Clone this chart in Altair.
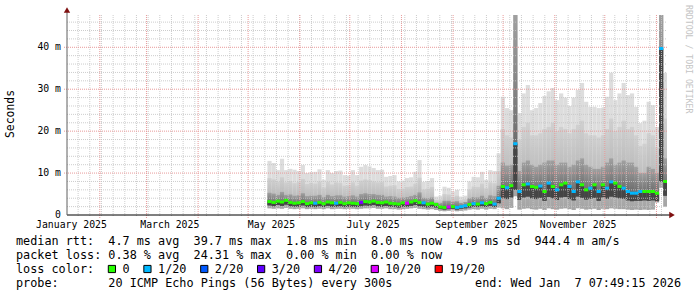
import altair as alt
import pandas as pd

# ---------------- data ----------------
# 2.5-day consolidation bins (smokeping 360-day RRA), first bin starts mid May 2025
bin_start = pd.date_range("2025-05-12 14:00:00", periods=96, freq="60h")

rtt_max = [12.9, 12.4, 10.7, 13.4, 10.7, 11.0, 10.8, 10.5, 11.9, 10.0, 10.2, 10.3, 10.9, 8.4, 10.7, 10.0, 10.5, 10.6, 9.5, 9.4,
           10.7, 9.5, 11.5, 11.9, 11.6, 11.2, 10.7, 10.8, 9.1, 9.3, 9.5, 8.0, 8.2, 8.8, 9.0, 10.3, 13.1, 7.9, 8.1, 8.8,
           4.4, 4.6, 6.75, 6.5, 5.6, 6.0, 4.4, 4.6, 8.0, 9.1, 9.0, 10.3, 8.4, 10.7, 10.5,
           14.7, 28.2, 25.5, 25.0, 48.0, 24.3, 29.0, 31.0, 25.0, 25.5, 26.7, 28.4, 29.5, 30.3, 27.4, 29.0, 28.0, 26.0, 28.0,
           29.8, 31.5, 27.0, 25.8, 25.8, 25.5, 25.6, 28.2, 33.9, 27.4, 29.0, 31.5, 28.6, 29.0, 25.8, 21.9, 22.5, 27.0, 26.2,
           21.0, 48.0, 33.9]
rtt_hi = [8.8, 8.5, 7.9, 9.0, 7.8, 8.1, 7.6, 7.9, 8.6, 7.4, 7.7, 7.5, 8.0, 6.6, 7.9, 7.3, 7.8, 7.7, 7.0, 7.1,
          7.8, 7.0, 8.2, 8.5, 8.3, 8.0, 7.8, 7.9, 6.8, 7.0, 7.1, 6.2, 6.3, 6.7, 6.8, 7.5, 8.9, 6.1, 6.3, 6.7,
          3.6, 3.7, 5.0, 4.9, 4.3, 4.6, 3.6, 3.8, 6.1, 6.8, 6.7, 7.5, 6.4, 7.8, 7.6,
          10.5, 20.5, 19.0, 18.5, 47.7, 18.0, 21.0, 22.0, 19.0, 19.0, 19.5, 20.5, 21.0, 22.0, 20.0, 21.0, 20.5, 19.5, 20.5,
          21.5, 22.5, 19.5, 19.0, 19.0, 18.5, 19.0, 20.5, 23.0, 20.0, 21.0, 22.5, 20.5, 21.0, 19.0, 16.5, 17.0, 19.5, 19.0,
          16.0, 47.7, 23.0]
rtt_mid = [5.3, 5.1, 4.8, 5.5, 4.8, 4.9, 4.6, 4.7, 5.2, 4.5, 4.6, 4.6, 4.8, 4.3, 4.8, 4.5, 4.7, 4.7, 4.4, 4.5,
           4.7, 4.4, 5.0, 5.2, 5.0, 5.0, 4.8, 4.8, 4.4, 4.5, 4.4, 4.1, 4.2, 4.3, 4.5, 4.8, 5.4, 4.1, 4.0, 4.2,
           3.0, 2.9, 3.4, 3.4, 3.2, 3.3, 2.9, 3.1, 4.0, 4.3, 4.2, 4.6, 4.1, 4.7, 4.5,
           7.0, 12.5, 11.8, 12.0, 47.7, 10.5, 12.5, 13.0, 12.0, 11.5, 12.0, 12.5, 13.0, 13.0, 12.0, 12.5, 12.5, 11.5, 12.0,
           13.0, 13.5, 12.0, 11.5, 11.0, 11.0, 11.5, 12.5, 13.5, 12.0, 12.5, 13.0, 12.5, 12.5, 11.5, 10.0, 10.0, 11.5, 11.0,
           10.0, 48.0, 13.5]
rtt_median = [3.2, 3.0, 3.3, 3.1, 3.5, 3.0, 2.8, 2.9, 3.2, 2.7, 2.9, 2.8, 3.0, 2.7, 3.1, 2.9, 2.8, 3.0, 2.7, 2.9,
              2.8, 2.7, 3.0, 3.2, 3.1, 3.3, 3.0, 2.9, 3.1, 2.8, 2.7, 2.6, 2.9, 2.8, 3.1, 3.4, 3.0, 2.9, 2.6, 2.8, 2.5,
              1.9, 1.8, 1.9, 2.0, 1.8, 2.0, 2.2, 2.5, 2.7, 2.6, 2.9, 2.7, 3.0, 2.6,
              4.0, 6.8, 6.5, 7.0, 17.0, 5.6, 7.2, 7.4, 6.8, 6.6, 6.9, 5.6, 7.6, 6.8, 6.0, 7.2, 7.6, 6.8, 5.6,
              7.9, 7.2, 6.0, 6.4, 7.2, 5.6, 7.2, 6.4, 7.9, 7.6, 6.8, 6.4, 5.6, 5.2, 5.2, 5.6, 5.6, 5.6, 5.6,
              5.2, 39.7, 8.0]
rtt_lo = [2.3, 2.1, 2.4, 2.2, 2.5, 2.1, 2.0, 2.0, 2.3, 1.9, 2.0, 1.9, 2.1, 1.9, 2.2, 2.0, 2.0, 2.1, 1.9, 2.0,
          2.0, 1.9, 2.1, 2.3, 2.2, 2.4, 2.1, 2.0, 2.2, 2.0, 1.9, 1.8, 2.0, 2.0, 2.2, 2.4, 2.1, 2.0, 1.8, 2.0, 1.8,
          1.4, 1.3, 1.4, 1.5, 1.3, 1.5, 1.6, 1.8, 2.0, 1.9, 2.1, 1.9, 2.2, 1.9,
          2.8, 4.0, 3.8, 4.2, 6.0, 3.6, 4.2, 4.4, 4.0, 3.8, 4.1, 3.4, 4.3, 4.0, 3.6, 4.2, 4.3, 3.8, 3.5,
          4.4, 4.1, 3.7, 3.9, 4.1, 3.4, 4.2, 3.9, 4.4, 4.2, 4.0, 3.9, 3.5, 3.3, 3.4, 3.4, 3.5, 3.4, 3.5,
          3.3, 8.0, 4.6]
rtt_min = [1.6, 1.5, 1.6, 1.5, 1.7, 1.5, 1.4, 1.5, 1.6, 1.4, 1.5, 1.4, 1.5, 1.4, 1.6, 1.4, 1.5, 1.5, 1.4, 1.5,
           1.5, 1.4, 1.5, 1.6, 1.6, 1.7, 1.5, 1.5, 1.6, 1.4, 1.4, 1.3, 1.4, 1.5, 1.6, 1.7, 1.5, 1.4, 1.3, 1.4, 1.2,
           1.0, 0.9, 1.0, 1.1, 0.9, 1.0, 1.1, 1.3, 1.4, 1.3, 1.5, 1.3, 1.5, 1.4,
           1.8, 1.6, 1.4, 1.7, 4.5, 1.3, 1.5, 1.6, 1.4, 1.3, 1.5, 1.2, 1.6, 1.4, 1.3, 1.5, 1.6, 1.4, 1.2,
           1.6, 1.5, 1.3, 1.4, 1.5, 1.2, 1.5, 1.4, 1.6, 1.5, 1.4, 1.4, 1.3, 1.2, 1.3, 1.2, 1.3, 1.2, 1.3,
           3.0, 6.5, 2.0]
# lost pings (of 20) per bin
loss = [0, 0, 0, 0, 0, 0, 0, 0, 0, 0, 0, 1, 0, 0, 0, 0, 1, 0, 0, 0,
        0, 0, 4, 0, 0, 0, 0, 0, 0, 0, 0, 0, 0, 10, 0, 0, 0, 1, 0, 0, 0,
        0, 0, 10, 0, 1, 1, 1, 0, 1, 0, 1, 0, 0, 1,
        1, 0, 1, 0, 1, 1, 0, 1, 0, 0, 1, 0, 1, 0, 1, 0, 0, 1, 1,
        1, 0, 0, 1, 0, 1, 0, 1, 1, 0, 0, 1, 1, 1, 1, 1, 0, 0, 0,
        0, 1, 0]

loss_thresholds = [1, 2, 3, 4, 10, 19]
loss_labels = ["0", "1/20", "2/20", "3/20", "4/20", "10/20", "19/20"]
loss_colors = ["#26ff00", "#00b8ff", "#0059ff", "#5e00ff", "#7e00ff", "#dd00ff", "#ff0000"]

y_tick_values = [0, 10, 20, 30, 40]
y_tick_labels = ["0", "10 m", "20 m", "30 m", "40 m"]
y_max = 47.7
x_label_dates = ["2025-01-15", "2025-03-15", "2025-05-15", "2025-07-15", "2025-09-15", "2025-11-15"]
x_labels = ["January 2025", "March 2025", "May 2025", "July 2025", "September 2025", "November 2025"]

legend_rtt = "median rtt:  4.7 ms avg  39.7 ms max  1.8 ms min  8.0 ms now  4.9 ms sd  944.4 m am/s"
legend_loss = "packet loss: 0.38 % avg  24.31 % max  0.00 % min  0.00 % now"
legend_probe = "probe:       20 ICMP Echo Pings (56 Bytes) every 300s"
legend_end = "end: Wed Jan  7 07:49:15 2026"
watermark = "RRDTOOL / TOBI OETIKER"
y_title = "Seconds"

# ---------------- frames ----------------
df = pd.DataFrame({
    "start": bin_start,
    "end": bin_start + pd.Timedelta(hours=60),
    "max": rtt_max, "hi": rtt_hi, "mid": rtt_mid, "median": rtt_median,
    "lo": rtt_lo, "min": rtt_min, "loss": loss,
})
weeks = pd.DataFrame({"d": pd.date_range("2025-01-19", "2026-01-04", freq="7D")})
months = pd.DataFrame({"d": pd.date_range("2025-02-01", "2026-01-01", freq="MS")})
ygrid_minor = pd.DataFrame({"v": [v for v in range(2, 48, 2) if v % 10]})
ygrid_major = pd.DataFrame({"v": [v for v in y_tick_values if v > 0]})
xlab_df = pd.DataFrame({"d": pd.to_datetime(x_label_dates), "t": x_labels})
ylab_df = pd.DataFrame({"v": y_tick_values, "t": y_tick_labels})

MONO = "DejaVu Sans Mono"
W, H = 600, 200
LEFT, TOP = 67, 15

x_scale = alt.Scale(domain=[alt.DateTime(year=2025, month=1, date=12, hours=7, minutes=49, seconds=15),
                            alt.DateTime(year=2026, month=1, date=7, hours=7, minutes=49, seconds=15)])
y_scale = alt.Scale(domain=[0, y_max], nice=False, zero=False)

base = alt.Chart(df)

band_a = base.mark_rect(fill="#dddddd", clip=True).encode(
    x=alt.X("start:T", scale=x_scale, axis=None), x2="end:T",
    y=alt.Y("min:Q", scale=y_scale, axis=None), y2="max:Q")

grad_b = alt.LinearGradient(gradient="linear", x1=0, x2=0, y1=0, y2=1,
                            stops=[alt.GradientStop(color="#d0d0d0", offset=0),
                                   alt.GradientStop(color="#b8b8b8", offset=0.6),
                                   alt.GradientStop(color="#a4a4a4", offset=1)])
band_b = base.mark_rect(fill=grad_b, clip=True).encode(
    x=alt.X("start:T", axis=None), x2="end:T", y=alt.Y("min:Q", axis=None), y2="hi:Q")

grad_c = alt.LinearGradient(gradient="linear", x1=0, x2=0, y1=0, y2=1,
                            stops=[alt.GradientStop(color="#a0a0a0", offset=0),
                                   alt.GradientStop(color="#787878", offset=0.6),
                                   alt.GradientStop(color="#565656", offset=1)])
band_c = base.mark_rect(fill=grad_c, clip=True).encode(
    x=alt.X("start:T", axis=None), x2="end:T", y=alt.Y("lo:Q", axis=None), y2="mid:Q")

band_d = base.mark_rect(fill="#454545", clip=True).encode(
    x=alt.X("start:T", axis=None), x2="end:T", y=alt.Y("lo:Q", axis=None), y2="median:Q")

# grids (drawn over the smoke, like rrdtool)
g_week = alt.Chart(weeks).mark_rule(color="#c4c4c4", strokeDash=[1, 1], strokeWidth=1, opacity=0.85).encode(
    x=alt.X("d:T", axis=None), y=alt.value(0), y2=alt.value(H + 2))
g_month = alt.Chart(months).mark_rule(color="#e89a9a", strokeDash=[1, 1], strokeWidth=1).encode(
    x=alt.X("d:T", axis=None), y=alt.value(0), y2=alt.value(H + 3))
g_ymin = alt.Chart(ygrid_minor).mark_rule(color="#c4c4c4", strokeDash=[1, 1], strokeWidth=1, opacity=0.85).encode(
    y=alt.Y("v:Q", axis=None), x=alt.value(0), x2=alt.value(W))
g_ymaj = alt.Chart(ygrid_major).mark_rule(color="#e89a9a", strokeDash=[1, 1], strokeWidth=1).encode(
    y=alt.Y("v:Q", axis=None), x=alt.value(-3), x2=alt.value(W))

median_line = base.mark_rule(strokeWidth=3, strokeCap="butt", clip=True).encode(
    x=alt.X("start:T", axis=None), x2="end:T", y=alt.Y("median:Q", axis=None),
    color=alt.Color("loss:Q", scale=alt.Scale(type="threshold", domain=loss_thresholds, range=loss_colors),
                    legend=None))

# tick labels
x_tick_text = alt.Chart(xlab_df).mark_text(font=MONO, fontSize=9.8, color="#000000", baseline="middle",
                                           align="center").encode(
    x=alt.X("d:T", axis=None), y=alt.value(225 - TOP), text="t:N")
y_tick_text = alt.Chart(ylab_df).mark_text(font=MONO, fontSize=9.8, color="#000000", baseline="middle",
                                           align="right").encode(
    y=alt.Y("v:Q", axis=None), x=alt.value(61 - LEFT), text="t:N")

# axes lines and arrows
one = alt.Data(values=[{}])
x_axis_line = alt.Chart(one).mark_rule(color="#000000", strokeWidth=1).encode(
    x=alt.value(0), x2=alt.value(W + 3), y=alt.value(H))
y_axis_line = alt.Chart(one).mark_rule(color="#606060", strokeWidth=1).encode(
    x=alt.value(0), y=alt.value(H), y2=alt.value(-3))
arrow_up = alt.Chart(one).mark_point(shape="triangle-up", x=0, y=-5, size=40, filled=True,
                                     color="#7f1010", opacity=1)
arrow_right = alt.Chart(one).mark_point(shape="triangle-right", x=W + 5, y=H, size=40, filled=True,
                                        color="#7f1010", opacity=1)

# texts
def nb(s):
    return s.replace(" ", "\u00a0")

LFS = 11.8
CW = LFS * 0.6021
TX = 16 - LEFT
line_y = [241 - TOP, 255 - TOP, 269 - TOP, 283 - TOP]

loss_line = "loss color:  "
box_idx = []
for lab in loss_labels:
    box_idx.append(len(loss_line))
    loss_line += "  " + lab + "  "

texts = []
for s, yy in [(legend_rtt, line_y[0]), (legend_loss, line_y[1]), (loss_line, line_y[2]), (legend_probe, line_y[3])]:
    texts.append(alt.Chart(one).mark_text(text=nb(s), x=TX, y=yy, align="left", baseline="middle",
                                          font=MONO, fontSize=LFS, color="#000000"))
texts.append(alt.Chart(one).mark_text(text=nb(legend_end), x=681 - LEFT, y=line_y[3], align="right",
                                      baseline="middle", font=MONO, fontSize=LFS, color="#000000"))
texts.append(alt.Chart(one).mark_text(text=y_title, x=11 - LEFT, y=114 - TOP, angle=270, align="center",
                                      baseline="middle", font=MONO, fontSize=11.4, color="#000000"))
texts.append(alt.Chart(one).mark_text(text=nb(watermark), x=688 - LEFT, y=5 - TOP, angle=90, align="left",
                                      baseline="middle", font=MONO, fontSize=8.2, color="#c4c4c4"))

boxes = []
for idx, col in zip(box_idx, loss_colors):
    boxes.append(alt.Chart(one).mark_square(x=TX + CW * (idx + 0.5), y=line_y[2], size=52, fill=col,
                                            stroke="#000000", strokeWidth=1, opacity=1))

chart = alt.layer(
    band_a, band_b, band_c, band_d,
    g_week, g_month, g_ymin, g_ymaj,
    median_line,
    x_tick_text, y_tick_text,
    x_axis_line, y_axis_line, arrow_up, arrow_right,
    *texts, *boxes,
).properties(
    width=W, height=H,
    autosize=alt.AutoSizeParams(type="none"),
    padding={"left": LEFT, "top": TOP, "right": 697 - LEFT - W, "bottom": 297 - TOP - H},
    background="#ffffff",
).configure_view(stroke=None)

chart.save("out.html", embed_options={"renderer": "svg", "actions": False})
